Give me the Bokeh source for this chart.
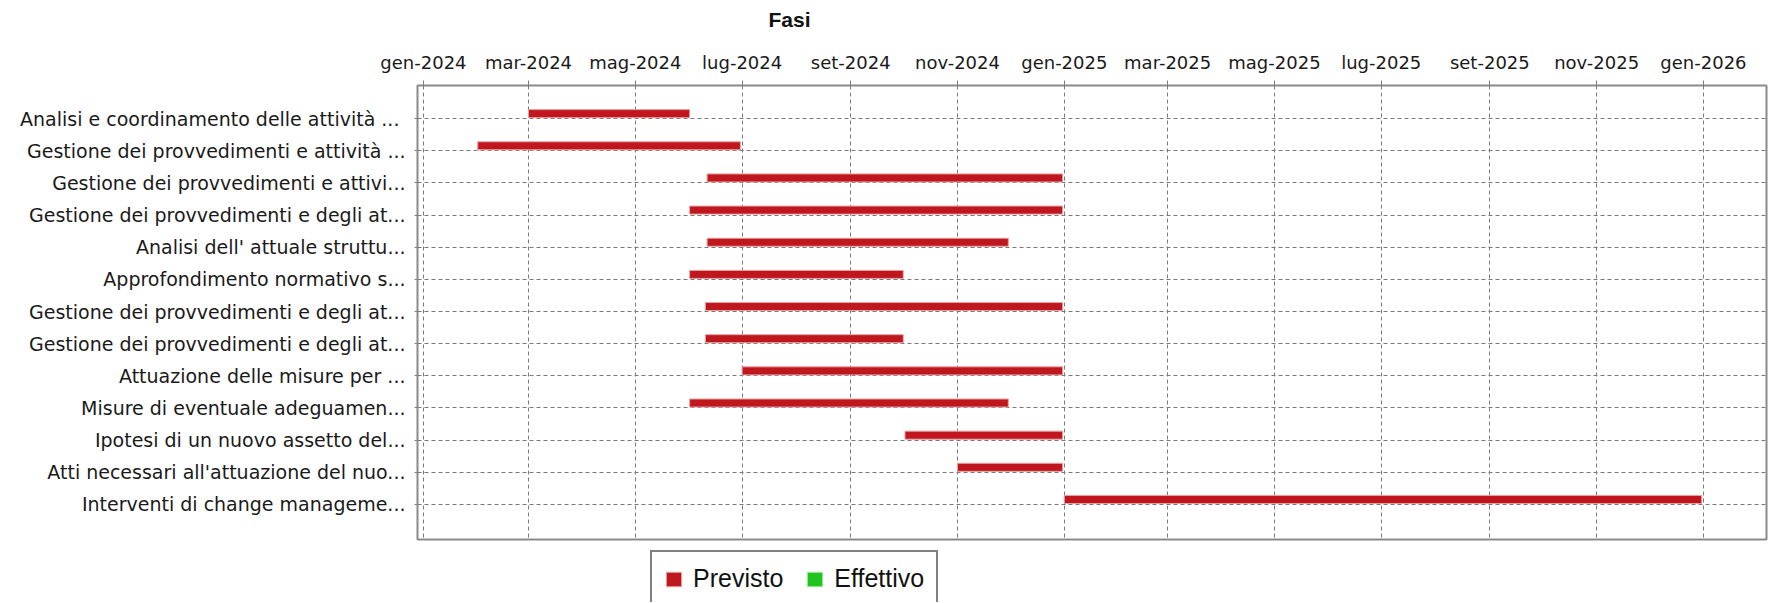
import pandas as pd
from bokeh.plotting import figure
from bokeh.layouts import column
from bokeh.models import (ColumnDataSource, Range1d, FixedTicker, Legend,
                          LegendItem, Label)
from bokeh.embed import file_html
from bokeh.resources import INLINE

# ---------------- data ----------------
tasks = [
    "Analisi  e coordinamento delle attività ...",
    "Gestione dei provvedimenti e attività ...",
    "Gestione dei provvedimenti e attivi...",
    "Gestione dei provvedimenti e degli at...",
    "Analisi dell' attuale struttu...",
    "Approfondimento normativo s...",
    "Gestione dei provvedimenti e degli at...",
    "Gestione dei provvedimenti e degli at...",
    "Attuazione delle misure per ...",
    "Misure di eventuale adeguamen...",
    "Ipotesi di un nuovo assetto del...",
    "Atti necessari all'attuazione del nuo...",
    "Interventi di change manageme...",
]
prev_start = ["2024-03-01", "2024-02-01", "2024-06-11", "2024-06-01",
              "2024-06-11", "2024-06-01", "2024-06-10", "2024-06-10",
              "2024-07-01", "2024-06-01", "2024-10-02", "2024-11-01",
              "2025-01-01"]
prev_end = ["2024-06-01", "2024-06-30", "2024-12-31", "2024-12-31",
            "2024-11-30", "2024-10-01", "2024-12-31", "2024-10-01",
            "2024-12-31", "2024-11-30", "2024-12-31", "2024-12-31",
            "2025-12-31"]
eff_start = []
eff_end = []
eff_tasks = []

tick_dates = ["2024-01-01", "2024-03-01", "2024-05-01", "2024-07-01",
              "2024-09-01", "2024-11-01", "2025-01-01", "2025-03-01",
              "2025-05-01", "2025-07-01", "2025-09-01", "2025-11-01",
              "2026-01-01"]
tick_labels = ["gen-2024", "mar-2024", "mag-2024", "lug-2024", "set-2024",
               "nov-2024", "gen-2025", "mar-2025", "mag-2025", "lug-2025",
               "set-2025", "nov-2025", "gen-2026"]
series_names = ["Previsto", "Effettivo"]
series_colors = ["#c0161e", "#1fc41f"]
series_edges = ["#e8a0a0", "#a0e8a0"]
chart_title = "Fasi"

x_start = "2023-12-28 14:24"
x_end = "2026-02-06 00:00"


def ms(s):
    return int(pd.Timestamp(s).value // 10**6)


n = len(tasks)
rows = list(range(n))
BAR_OFF = 0.155
BAR_H = 0.25

prev_src = ColumnDataSource(dict(
    task=tasks,
    y=[r - BAR_OFF for r in rows],
    left=[ms(s) for s in prev_start],
    right=[ms(e) for e in prev_end],
))
eff_rows = [tasks.index(t) for t in eff_tasks]
eff_src = ColumnDataSource(dict(
    task=eff_tasks,
    y=[r + BAR_OFF for r in eff_rows],
    left=[ms(s) for s in eff_start],
    right=[ms(e) for e in eff_end],
))

W = 1768
ML, MR = 417, 2
FRAME_W = W - ML - MR
TITLE_H = 40
MT = 85 - TITLE_H
MB = 2
FRAME_H = 454
H = MT + FRAME_H + MB
LEG_H = 603 - TITLE_H - H - 1
xs, xe = ms(x_start), ms(x_end)


def strip(height):
    f = figure(width=W, height=height, output_backend="svg",
               toolbar_location=None, x_axis_type=None, y_axis_type=None,
               x_range=Range1d(0, 1), y_range=Range1d(0, 1),
               min_border=0, outline_line_color=None)
    f.grid.visible = False
    f.background_fill_color = "white"
    f.border_fill_color = "white"
    return f


# ---------------- title strip ----------------
p0 = strip(TITLE_H)
p0.add_layout(Label(x=372 / FRAME_W, y=1 - 19 / TITLE_H, text=chart_title,
                    text_align="center", text_baseline="middle",
                    text_font="Liberation Sans", text_font_style="bold",
                    text_font_size="21px", text_color="#111111"))

# ---------------- main chart ----------------
p = figure(width=W, height=H, x_axis_type="datetime",
           x_axis_location="above",
           x_range=Range1d(xs, xe), y_range=Range1d(13.09, -1.03),
           output_backend="svg", toolbar_location=None,
           min_border_left=ML, min_border_right=MR,
           min_border_top=MT, min_border_bottom=MB)

p.background_fill_color = "white"
p.border_fill_color = "white"
p.outline_line_color = "#8a8a8a"
p.outline_line_width = 2

# x axis (top)
tick_ms = [ms(d) for d in tick_dates]
xa = p.xaxis[0]
xa.ticker = FixedTicker(ticks=tick_ms, minor_ticks=[])
xa.major_label_overrides = {t: l for t, l in zip(tick_ms, tick_labels)}
xa.major_label_text_font = "DejaVu Sans"
xa.major_label_text_font_size = "18px"
xa.major_label_text_color = "#1a1a1a"
xa.major_label_standoff = 8
xa.axis_line_color = None
xa.major_tick_out = 5
xa.major_tick_in = 0
xa.major_tick_line_color = "#808080"
xa.minor_tick_line_color = None

# y axis (left)
ya = p.yaxis[0]
ya.ticker = FixedTicker(ticks=rows, minor_ticks=[])
ya.major_label_overrides = {r: t for r, t in zip(rows, tasks)}
ya.major_label_text_font = "DejaVu Sans"
ya.major_label_text_font_size = "19px"
ya.major_label_text_color = "#1a1a1a"
ya.major_label_standoff = 9
ya.axis_line_color = None
ya.major_tick_out = 3
ya.major_tick_in = 0
ya.major_tick_line_color = "#808080"
ya.minor_tick_line_color = None

for g in (p.xgrid[0], p.ygrid[0]):
    g.grid_line_color = "#7a7a7a"
    g.grid_line_dash = "4 3"
    g.grid_line_width = 1

p.hbar(y="y", left="left", right="right", height=BAR_H,
       source=prev_src, fill_color=series_colors[0],
       line_color=series_edges[0], line_width=1)
p.hbar(y="y", left="left", right="right", height=BAR_H,
       source=eff_src, fill_color=series_colors[1],
       line_color=series_edges[1], line_width=1)

# ---------------- legend strip ----------------
p2 = strip(LEG_H)
nan = float("nan")
items = []
for name, col, edge in zip(series_names, series_colors, series_edges):
    proxy = p2.hbar(y=[nan], left=[nan], right=[nan], height=1,
                    fill_color=col, line_color=edge, line_width=1)
    items.append(LegendItem(label=name, renderers=[proxy]))

legend = Legend(items=items, orientation="horizontal")
legend.label_text_font = "Liberation Sans"
legend.label_text_font_size = "25px"
legend.label_text_color = "#111111"
legend.glyph_width = 19
legend.glyph_height = 18
legend.label_standoff = 10
legend.spacing = 22
legend.padding = 12
legend.margin = 0
legend.border_line_color = "black"
legend.border_line_width = 2
legend.background_fill_color = "white"
legend.background_fill_alpha = 1
# frames are aligned in the column, so x is measured from the frame's left edge
legend.location = (233, LEG_H - 12 - 54)
p2.add_layout(legend)

layout = column(p0, p, p2, spacing=0)
open("out.html", "w").write(file_html(layout, INLINE))
